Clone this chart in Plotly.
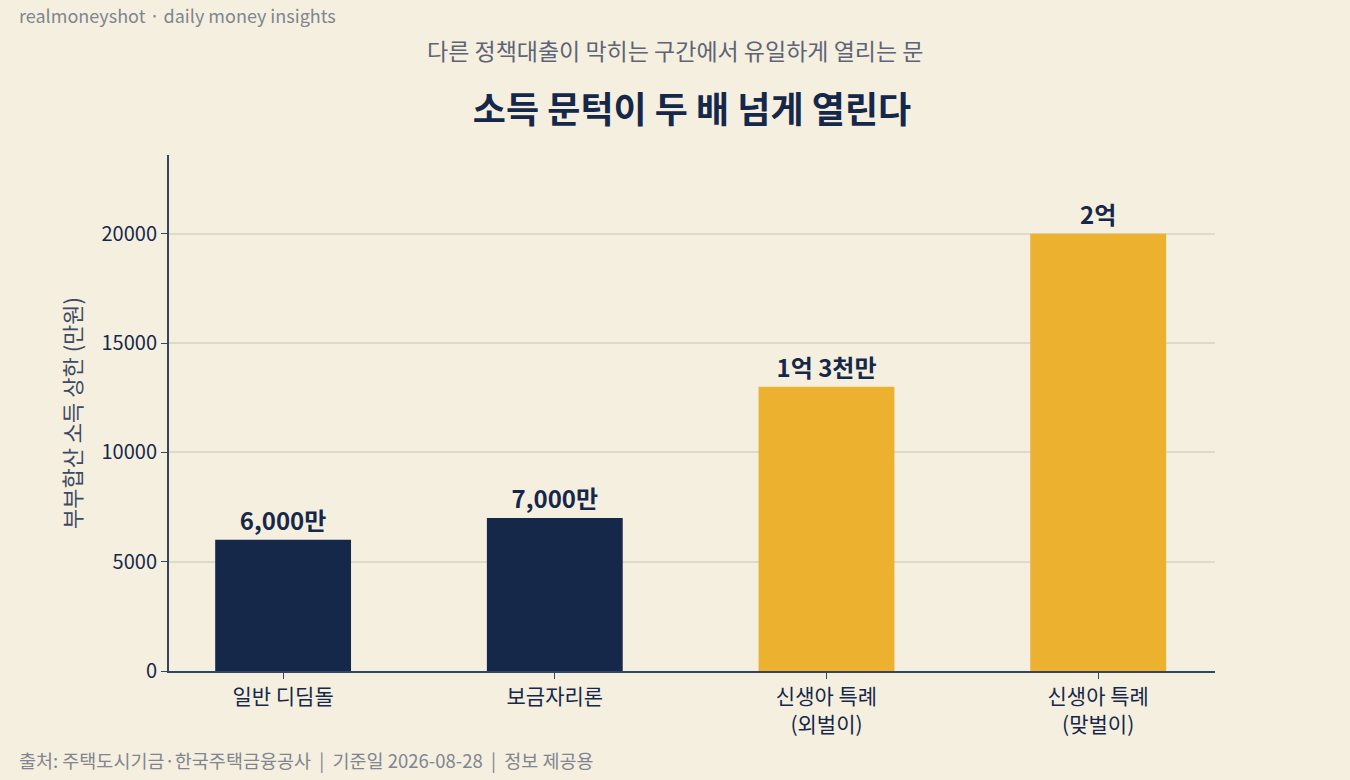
import plotly.graph_objects as go

categories = ["일반 디딤돌", "보금자리론", "신생아 특례<br>(외벌이)", "신생아 특례<br>(맞벌이)"]
income_cap = [6000, 7000, 13000, 20000]
bar_labels = ["6,000만", "7,000만", "1억 3천만", "2억"]
y_ticks = [0, 5000, 10000, 15000, 20000]

NAVY = "#15284a"
GOLD = "#ecb12f"
BG = "#f5efe0"
GREY = "#80858f"
FONT = "Noto Sans CJK KR"

colors = [NAVY, NAVY, GOLD, GOLD]
positions = list(range(len(categories)))

fig = go.Figure()
fig.add_trace(go.Bar(
    x=positions, y=income_cap, width=0.5,
    marker=dict(color=colors, line=dict(width=0)),
    text=bar_labels, textposition="outside", cliponaxis=False,
    textfont=dict(family=FONT, size=24, color=NAVY, weight="bold"),
    hoverinfo="skip",
))

fig.update_layout(
    width=1350, height=780,
    paper_bgcolor=BG, plot_bgcolor=BG,
    margin=dict(l=169, r=135, t=155, b=109),
    showlegend=False,
    font=dict(family=FONT, color=NAVY),
    title=dict(text="<b>소득 문턱이 두 배 넘게 열린다</b>", x=0.5, xref="paper",
               y=0.859, yref="container", xanchor="center", yanchor="middle",
               font=dict(size=36, color=NAVY, family=FONT)),
)

fig.update_xaxes(
    range=[-0.42, 3.43], tickvals=positions, ticktext=categories,
    showline=True, linecolor="#34465f", linewidth=2,
    ticks="outside", ticklen=6, tickcolor="#34465f",
    tickfont=dict(size=21, color=NAVY), showgrid=False, zeroline=False,
)
fig.update_yaxes(
    range=[0, 23600], tickvals=y_ticks, tickformat="d",
    showline=True, linecolor="#34465f", linewidth=2,
    ticks="outside", ticklen=6, tickcolor="#34465f",
    tickfont=dict(size=20, color=NAVY),
    gridcolor="#dcdacd", gridwidth=1.5, zeroline=False,
    title=dict(text="부부합산 소득 상한 (만원)", font=dict(size=22, color="#3d4a62"), standoff=14),
)

fig.add_annotation(text="realmoneyshot · daily money insights", xref="paper", yref="paper",
                   x=-0.1453, y=1.271, xanchor="left", yanchor="middle", showarrow=False,
                   font=dict(size=18, color=GREY, family=FONT))
fig.add_annotation(text="다른 정책대출이 막히는 구간에서 유일하게 열리는 문", xref="paper", yref="paper",
                   x=0.4837, y=1.203, xanchor="center", yanchor="middle", showarrow=False,
                   font=dict(size=23, color="#5d6475", family=FONT))
fig.add_annotation(text="출처: 주택도시기금·한국주택금융공사  |  기준일 2026-08-28  |  정보 제공용",
                   xref="paper", yref="paper", x=-0.1453, y=-0.172, xanchor="left", yanchor="middle",
                   showarrow=False, font=dict(size=18.5, color=GREY, family=FONT))

fig.write_html("out.html", config={"displayModeBar": False},
               post_script="document.body.style.margin='0';")
